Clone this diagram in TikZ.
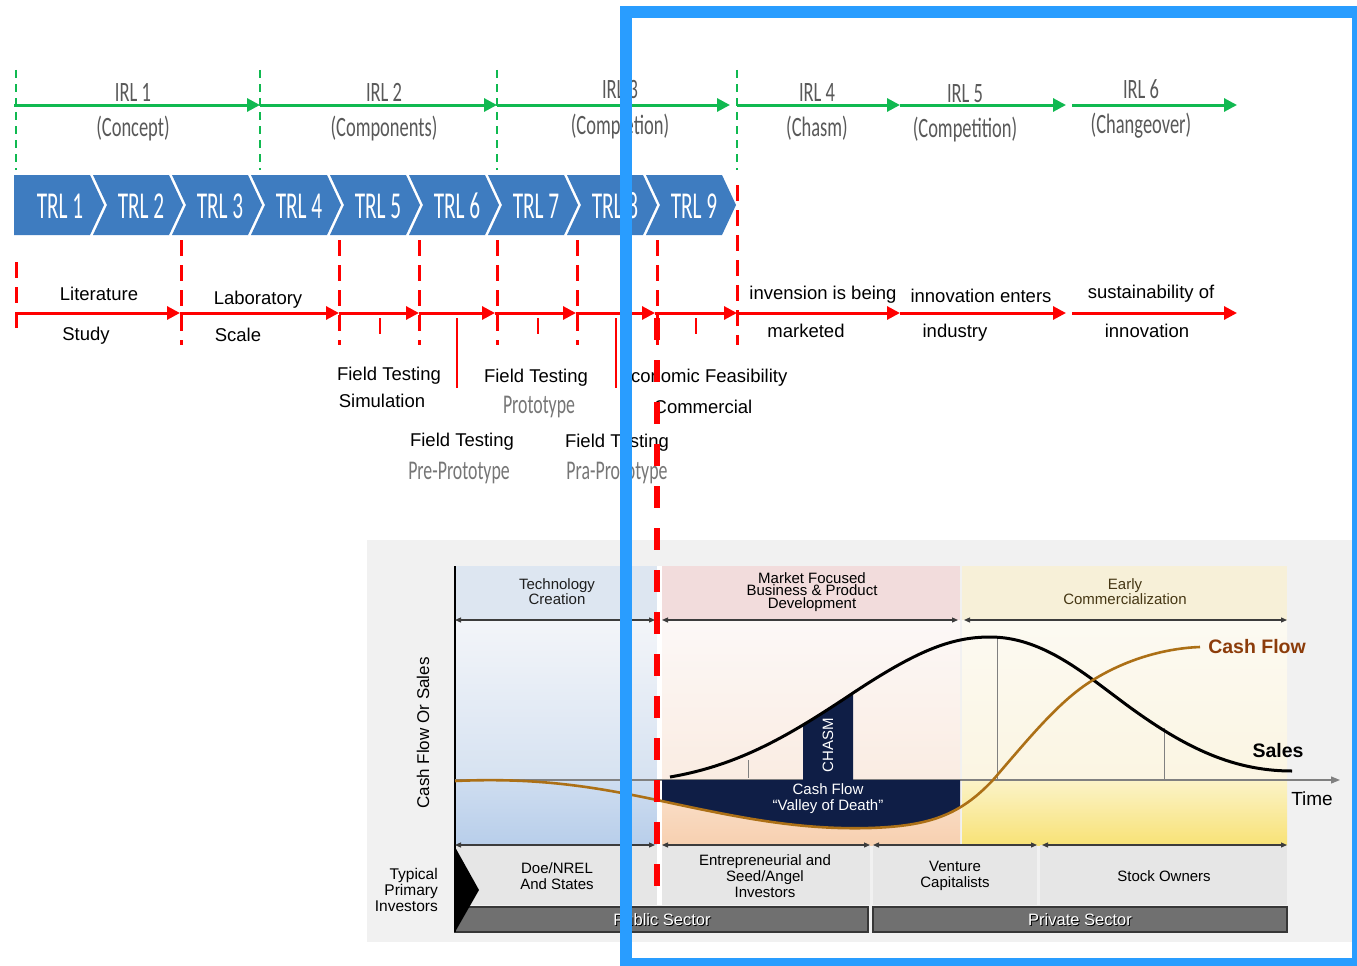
\documentclass[tikz,border=0pt]{standalone}
\usepackage{fontspec}
\setmainfont{Liberation Sans}
\newfontfamily\condf[FakeStretch=0.66]{Carlito}
\newfontfamily\trlf[FakeStretch=0.56]{Carlito}
\usetikzlibrary{arrows.meta}
\definecolor{irlgreen}{RGB}{16,185,80}
\definecolor{irlgray}{RGB}{89,89,89}
\definecolor{protogray}{RGB}{118,118,118}
\definecolor{trlblue}{RGB}{62,124,192}
\definecolor{frameblue}{RGB}{41,157,255}
\definecolor{panelgray}{RGB}{241,241,241}
\definecolor{tcblue}{RGB}{221,230,241}
\definecolor{mfpink}{RGB}{242,220,220}
\definecolor{ecyellow}{RGB}{247,240,216}
\definecolor{invgray}{RGB}{230,230,230}
\definecolor{secgray}{RGB}{112,112,112}
\definecolor{secedge}{RGB}{55,55,55}
\definecolor{navy}{RGB}{15,30,70}
\definecolor{cashcol}{RGB}{172,112,22}
\definecolor{cashlbl}{RGB}{140,60,10}
\definecolor{arrgray}{RGB}{60,60,60}
\definecolor{earlycol}{RGB}{70,55,20}
\begin{document}
\begin{tikzpicture}[x=1pt,y=-1pt,
  irlarrow/.style={draw=irlgreen, line width=3pt, -{Triangle[length=13pt,width=13pt]}},
  gdash/.style={draw=irlgreen, line width=2pt, dash pattern=on 8pt off 6pt},
  redarrow/.style={draw=red, line width=3pt, -{Triangle[length=13pt,width=13pt]}},
  rdash/.style={draw=red, line width=3pt, dash pattern=on 16pt off 9pt},
  rtick/.style={draw=red, line width=2pt},
  irltxt/.style={font=\condf\fontsize{28}{30}\selectfont, text=irlgray, anchor=base, inner sep=0pt},
  trltxt/.style={font=\trlf\fontsize{38}{40}\selectfont, text=white, anchor=base, inner sep=0pt},
  lbl/.style={font=\fontsize{18.5}{20}\selectfont, anchor=base, inner sep=0pt},
  glbl/.style={font=\condf\fontsize{27}{29}\selectfont, text=protogray, anchor=base, inner sep=0pt},
  ctxt/.style={font=\fontsize{15}{16}\selectfont, align=center, inner sep=0pt},
  dbl/.style={draw=arrgray, line width=1.2pt, {Triangle[length=6pt,width=5pt]}-{Triangle[length=6pt,width=5pt]}},
  thin/.style={draw=gray, line width=1pt},
  sectxt/.style={font=\fontsize{16.5}{18}\selectfont, inner sep=0pt}
]
\useasboundingbox (0,0) rectangle (1357,966);
\fill[white] (0,0) rectangle (1357,966);

% ---------- IRL row ----------
\foreach \x/\n in {16/g0,260/g1,497/g2,737/g3} {
  \coordinate (\n t) at (\x,70);
  \coordinate (\n b) at (\x,170);
  \draw[gdash] (\n t) -- (\n b);
}
\coordinate (g0) at (14,105);
\coordinate (g1) at (260,105);
\coordinate (g2) at (497,105);
\coordinate (g3e) at (730,105);
\coordinate (g3) at (737,105);
\coordinate (g4) at (900,105);
\coordinate (g5) at (1066,105);
\coordinate (g5s) at (1072,105);
\coordinate (g6) at (1237,105);
\draw[irlarrow] (g0) -- (g1);
\draw[irlarrow] (g1) -- (g2);
\draw[irlarrow] (g2) -- (g3e);
\draw[irlarrow] (g3) -- (g4);
\draw[irlarrow] (g4) -- (g5);
\draw[irlarrow] (g5s) -- (g6);

\node[irltxt] (irl1) at (133,101) {IRL 1};
\node[irltxt] (irl1b) at (133,136) {(Concept)};
\node[irltxt] (irl2) at (384,101) {IRL 2};
\node[irltxt] (irl2b) at (384,136) {(Components)};
\node[irltxt] (irl3) at (620,99) {IRL 3};
\node[irltxt] (irl3b) at (620,134) {(Completion)};
\node[irltxt] (irl4) at (817,101) {IRL 4};
\node[irltxt] (irl4b) at (817,136) {(Chasm)};
\node[irltxt] (irl5) at (965,102) {IRL 5};
\node[irltxt] (irl5b) at (965,137) {(Competition)};
\node[irltxt] (irl6) at (1141,98) {IRL 6};
\node[irltxt] (irl6b) at (1141,133) {(Changeover)};

% ---------- TRL chevrons ----------
\fill[trlblue] (14,175) -- (90,175) -- (104,205) -- (90,235) -- (14,235) -- cycle;
\node[trltxt] (trl1) at (60,218) {TRL 1};
\foreach \k in {2,...,9} {
  \pgfmathsetmacro\a{14+79*(\k-1)}
  \fill[trlblue] (\a,175) -- (\a+76,175) -- (\a+90,205) -- (\a+76,235) -- (\a,235) -- (\a+14,205) -- cycle;
  \node[trltxt] (trl\k) at (\a+48,218) {TRL \k};
}

% ---------- red row ----------
\draw[rdash] (16,262) -- (16,335);
\foreach \x in {181,339,419,497,577,657} {
  \draw[rdash] (\x,240) -- (\x,345);
}
\draw[rdash] (737,185) -- (737,345);
\foreach \x in {380,538,696} { \draw[rtick] (\x,318) -- (\x,334); }
\foreach \x in {457,616} { \draw[rtick] (\x,318) -- (\x,388); }

\coordinate (r0) at (16,313);
\coordinate (r1) at (180,313);
\coordinate (r2) at (339,313);
\coordinate (r3) at (419,313);
\coordinate (r4) at (495,313);
\coordinate (r5) at (576,313);
\coordinate (r6) at (655,313);
\coordinate (r7) at (737,313);
\coordinate (r8) at (900,313);
\coordinate (r9) at (1066,313);
\coordinate (r9s) at (1072,313);
\coordinate (r10) at (1237,313);
\draw[redarrow] (r0) -- (r1);
\draw[redarrow] (r1) -- (r2);
\draw[redarrow] (r2) -- (r3);
\draw[redarrow] (r3) -- (r4);
\draw[redarrow] (r4) -- (r5);
\draw[redarrow] (r5) -- (r6);
\draw[redarrow] (r6) -- (r7);
\draw[redarrow] (r7) -- (r8);
\draw[redarrow] (r8) -- (r9);
\draw[redarrow] (r9s) -- (r10);

\node[lbl] (lit) at (99,300) {Literature};
\node[lbl] (stu) at (86,340) {Study};
\node[lbl] (lab) at (258,304) {Laboratory};
\node[lbl] (sca) at (238,341) {Scale};
\node[lbl] (inv) at (823,299) {invension is being};
\node[lbl] (mkt) at (806,337) {marketed};
\node[lbl] (ine) at (981,302) {innovation enters};
\node[lbl] (ind) at (955,337) {industry};
\node[lbl] (sus) at (1151,298) {sustainability of};
\node[lbl] (inn) at (1147,337) {innovation};

\node[lbl] (ft1) at (389,380) {Field Testing};
\node[lbl] (sim) at (382,407) {Simulation};
\node[lbl] (ft2) at (536,382) {Field Testing};
\node[glbl] (pro) at (539,413) {Prototype};
\node[lbl] (eco) at (703,382) {Economic Feasibility};
\node[lbl] (com) at (703,413) {Commercial};
\node[lbl] (ft3) at (462,446) {Field Testing};
\node[glbl] (pre) at (459,479) {Pre-Prototype};
\node[lbl] (ft4) at (617,447) {Field Testing};
\node[glbl] (pra) at (617,479) {Pra-Prototype};

% ---------- chart ----------
\fill[panelgray] (367,540) rectangle (1352,942);
\fill[tcblue] (455,566) rectangle (657,620);
\fill[mfpink] (662,566) rectangle (960,620);
\fill[ecyellow] (962,566) rectangle (1287,620);
\shade[top color={rgb,255:red,243;green,245;blue,249}, bottom color={rgb,255:red,214;green,226;blue,241}] (455,620) rectangle (657,780);
\shade[top color={rgb,255:red,206;green,221;blue,240}, bottom color={rgb,255:red,184;green,206;blue,234}] (455,780) rectangle (657,845);
\shade[top color={rgb,255:red,252;green,248;blue,247}, bottom color={rgb,255:red,250;green,236;blue,226}] (662,620) rectangle (960,780);
\shade[top color={rgb,255:red,250;green,226;blue,206}, bottom color={rgb,255:red,247;green,208;blue,176}] (662,780) rectangle (960,845);
\shade[top color={rgb,255:red,252;green,250;blue,242}, bottom color={rgb,255:red,251;green,245;blue,226}] (962,620) rectangle (1287,780);
\shade[top color={rgb,255:red,251;green,243;blue,200}, bottom color={rgb,255:red,248;green,226;blue,118}] (962,780) rectangle (1287,845);
\fill[white] (657,566) rectangle (662,905);

\fill[invgray] (455,845) rectangle (657,905);
\fill[invgray] (662,845) rectangle (870,905);
\fill[invgray] (873,845) rectangle (1037,905);
\fill[invgray] (1040,845) rectangle (1287,905);

\draw[fill=secgray, draw=secedge, line width=1.5pt] (455,907) rectangle (868,932);
\draw[fill=secgray, draw=secedge, line width=1.5pt] (873,907) rectangle (1287,932);
\fill[black] (455,847) -- (479,890) -- (455,932) -- cycle;

% axes
\draw[line width=1.3pt] (455,566) -- (455,932);
\coordinate (ax0) at (455,780);
\coordinate (ax1) at (1340,780);
\draw[draw=gray, line width=1.2pt, -{Triangle[length=9pt,width=7pt]}] (ax0) -- (ax1);

% double arrows
\draw[dbl] (455,620) -- (655,620);
\draw[dbl] (662,620) -- (958,620);
\draw[dbl] (964,620) -- (1287,620);
\draw[dbl] (455,845) -- (655,845);
\draw[dbl] (662,845) -- (870,845);
\draw[dbl] (873,845) -- (1037,845);
\draw[dbl] (1042,845) -- (1287,845);

% valley of death
\begin{scope}
  \clip (662,779) rectangle (960,900);
  \fill[navy] (657,780) -- (657,800) .. controls (740,818) and (800,830) .. (870,828) .. controls (930,826) and (960,815) .. (993,780) -- cycle;
\end{scope}
% chasm
\begin{scope}
  \clip (803,600) rectangle (853,780);
  \fill[navy] (670,777) .. controls (740,765) and (790,735) .. (853,693) .. controls (915,652) and (950,637) .. (990,637) -- (990,780) -- (670,780) -- cycle;
\end{scope}

% thin verticals
\draw[thin] (748,760) -- (748,778);
\draw[thin] (997,637) -- (997,780);
\draw[thin] (1164,728) -- (1164,780);

% sales curve
\draw[black, line width=3pt] (670,777) .. controls (740,765) and (790,735) .. (853,693) .. controls (915,652) and (950,637) .. (990,637) .. controls (1040,637) and (1080,670) .. (1120,700) .. controls (1180,745) and (1230,771) .. (1292,771);

% cash flow curve
\draw[cashcol, line width=2.6pt] (455,781) .. controls (540,777) and (600,788) .. (657,800) .. controls (740,818) and (800,830) .. (870,828) .. controls (930,826) and (960,815) .. (993,780) .. controls (1030,737) and (1060,700) .. (1093,680) .. controls (1130,657) and (1170,648) .. (1200,647);

% thick red dashed
\draw[red, line width=6.5pt, dash pattern=on 22pt off 20pt] (657,318) -- (657,886);

% chart texts
\node[ctxt, font=\fontsize{15}{15}\selectfont, text={rgb,255:red,30;green,30;blue,30}] (tc) at (557,592) {Technology\\Creation};
\node[ctxt, font=\fontsize{15}{12.5}\selectfont] (mf) at (812,592) {Market Focused\\Business \& Product\\Development};
\node[ctxt, font=\fontsize{15}{15}\selectfont, text=earlycol] (ec) at (1125,592) {Early\\Commercialization};
\node[ctxt] (doe) at (557,876) {Doe/NREL\\And States};
\node[ctxt] (ent) at (765,876) {Entrepreneurial and\\Seed/Angel\\Investors};
\node[ctxt] (vc) at (955,876) {Venture\\Capitalists};
\node[ctxt] (so) at (1164,876) {Stock Owners};
\node[ctxt, align=right, anchor=east, font=\fontsize{15.5}{16}\selectfont] (tpi) at (438,890) {Typical\\Primary\\Investors};
\node[sectxt, text=black] at (663,921) {Public Sector};
\node[sectxt, text=white] (pub) at (662,920) {Public Sector};
\node[sectxt, text=black] at (1081,921) {Private Sector};
\node[sectxt, text=white] (pri) at (1080,920) {Private Sector};
\node[font=\fontsize{17}{18}\selectfont, rotate=90, inner sep=0pt] (yax) at (423,733) {Cash Flow Or Sales};
\node[font=\fontsize{15}{16}\selectfont, rotate=90, text=white, inner sep=0pt] (chasm) at (828,745) {CHASM};
\node[ctxt, text=white, font=\fontsize{15}{16}\selectfont] (vod) at (828,799) {Cash Flow\\``Valley of Death''};
\node[font=\bfseries\fontsize{19.5}{20}\selectfont, text=cashlbl, inner sep=0pt] (cfl) at (1257,647) {Cash Flow};
\node[font=\bfseries\fontsize{19.5}{20}\selectfont, inner sep=0pt] (sal) at (1278,751) {Sales};
\node[font=\fontsize{19}{20}\selectfont, inner sep=0pt] (time) at (1312,799) {Time};

% ---------- blue frame ----------
\draw[frameblue, line width=12pt] (626,12) rectangle (1358,964);
\end{tikzpicture}
\end{document}
